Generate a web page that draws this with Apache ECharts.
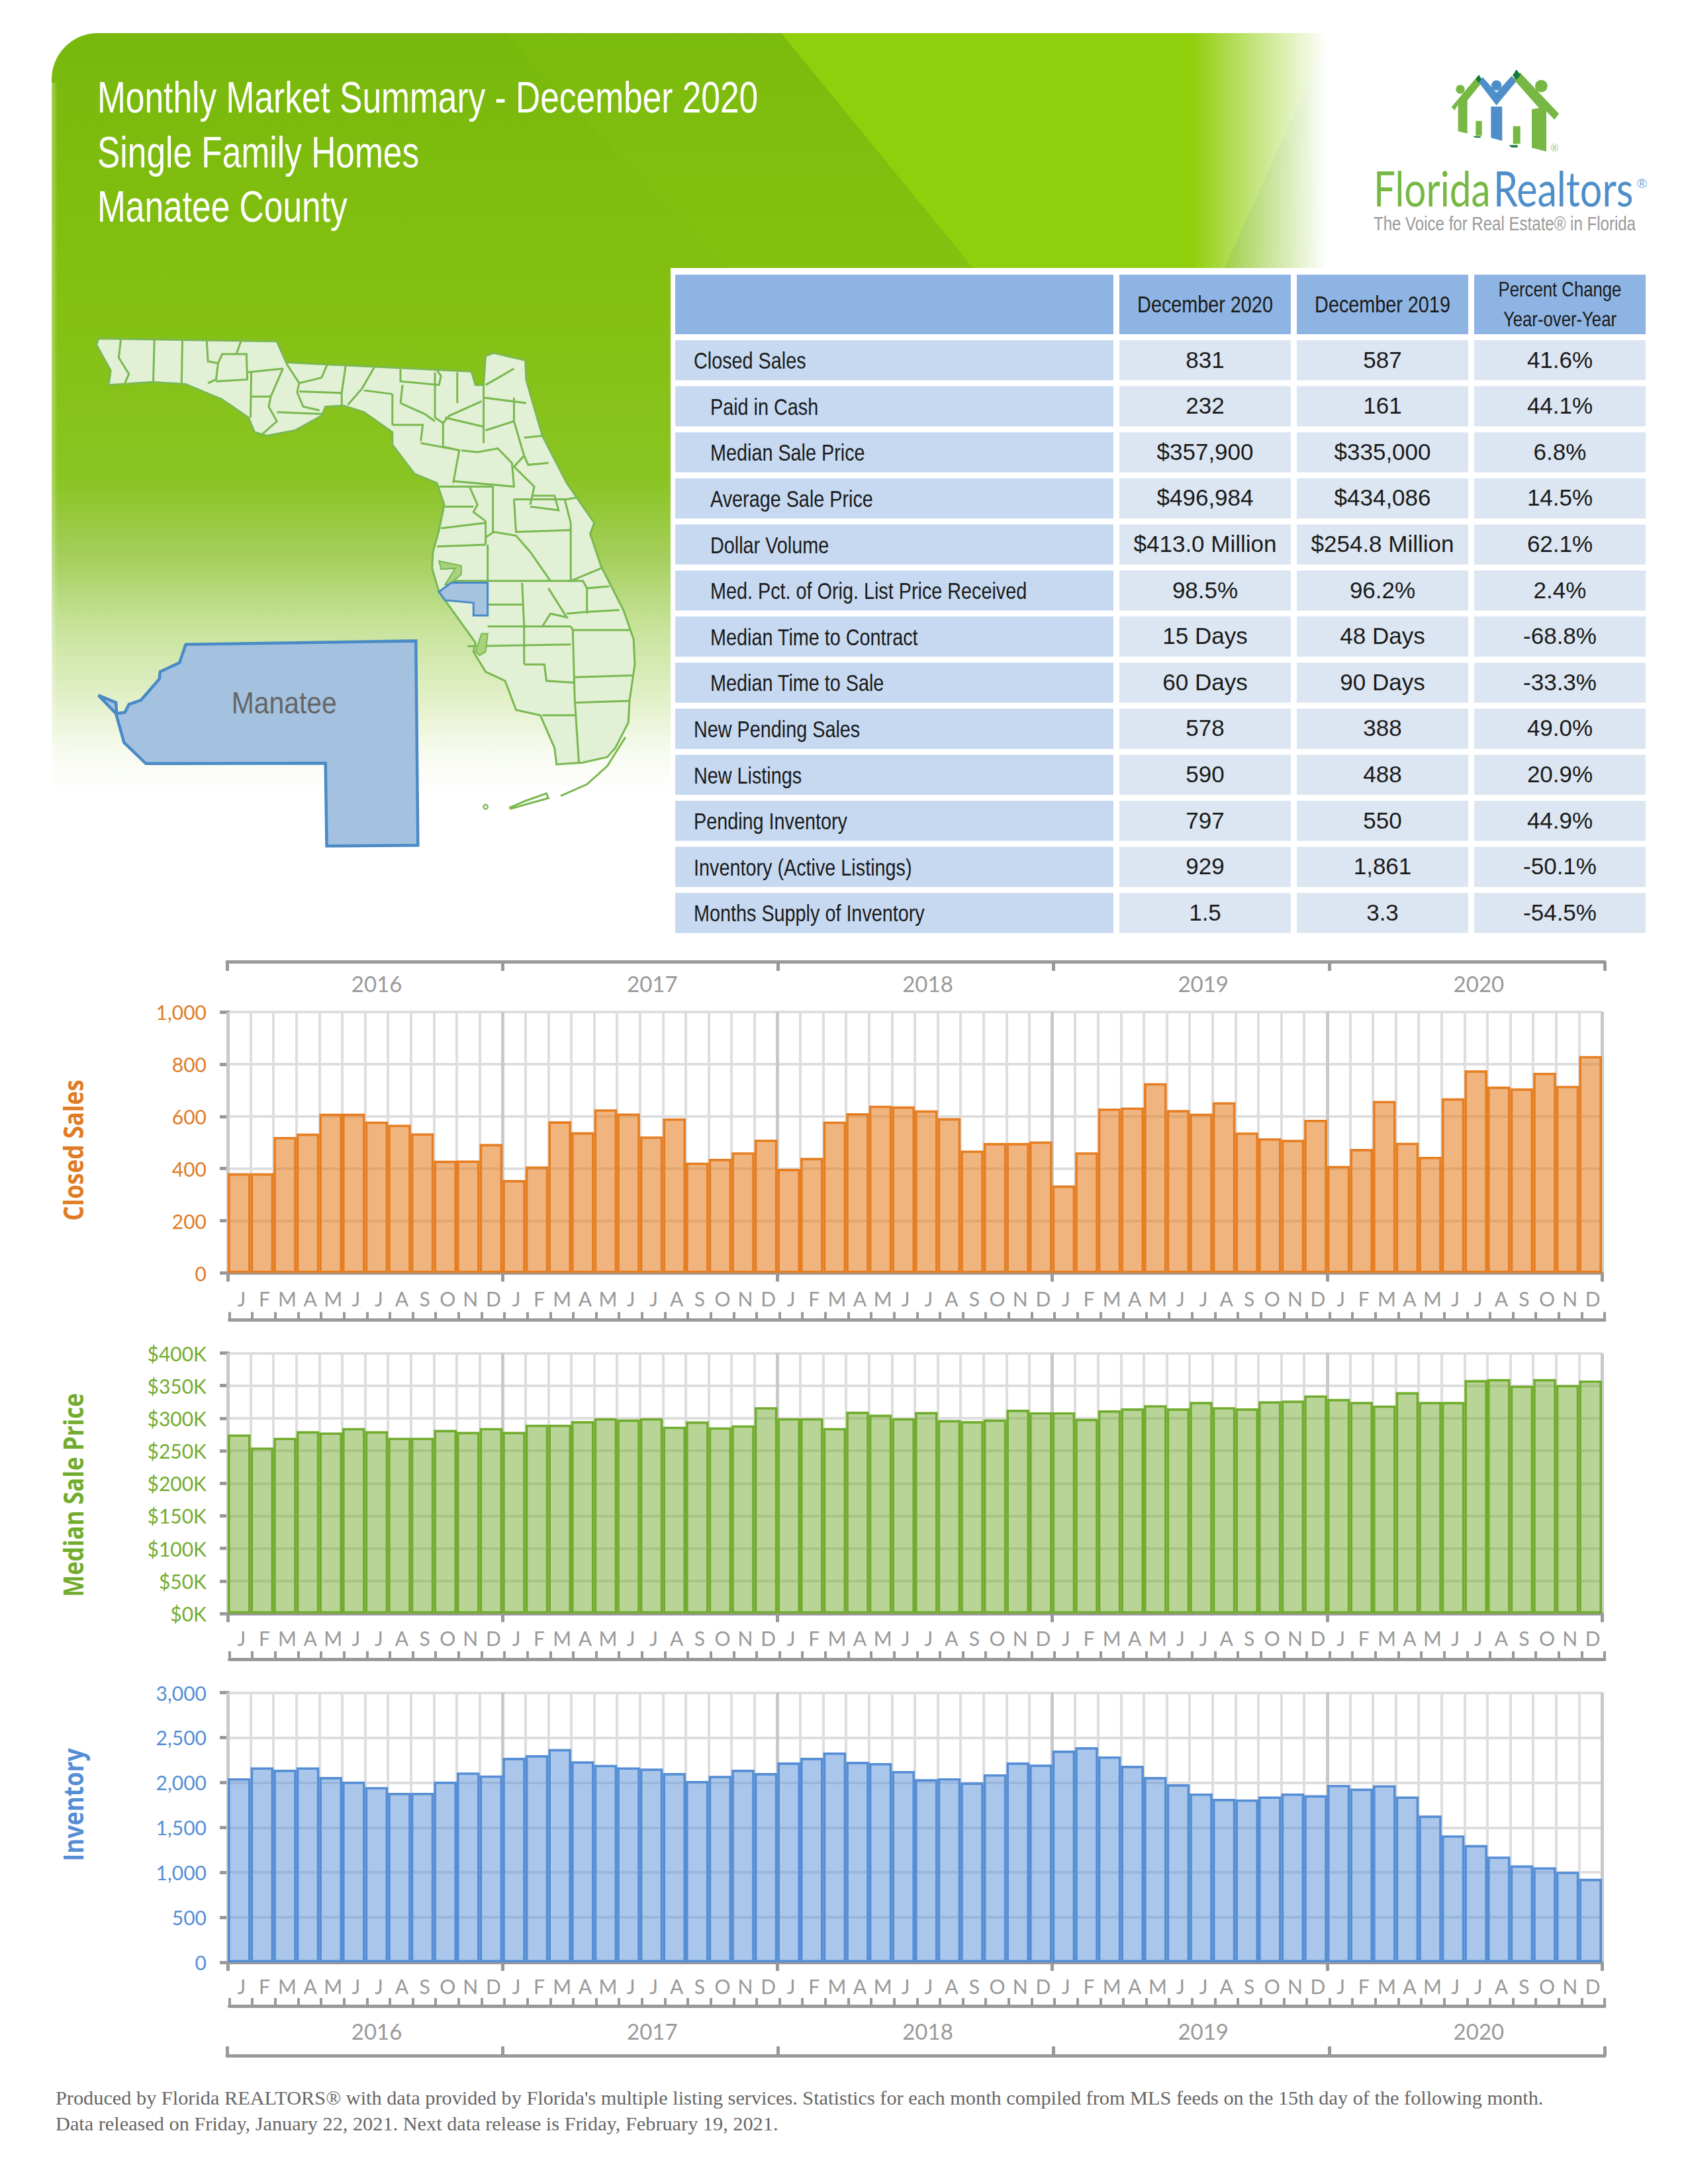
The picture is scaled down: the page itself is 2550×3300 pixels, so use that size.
<!DOCTYPE html>
<html><head><meta charset="utf-8"><title>Monthly Market Summary</title>
<style>html,body{margin:0;padding:0;background:#fff}#c{width:2550px;height:3300px}</style>
<script src="https://cdn.jsdelivr.net/npm/echarts@6/dist/echarts.min.js"></script></head>
<body><div id="c"></div>
<script>
const monthLetters = ['J','F','M','A','M','J','J','A','S','O','N','D'];
const years = ['2016','2017','2018','2019','2020'];
const closedSales = [382,382,521,534,610,610,580,568,535,430,431,494,
 356,408,581,539,627,611,523,592,423,437,462,511,
 399,441,580,612,641,638,623,593,469,498,498,504,
 335,462,630,634,727,624,610,654,538,516,510,587,
 410,475,659,499,445,669,776,714,707,767,717,831];
const medianPrice = [275000,255000,270000,280000,278000,285000,280000,270000,270000,282000,279000,285000,
 279000,290000,290000,295500,300000,298000,300000,287000,295000,286000,289000,317000,
 300000,300000,285000,310000,305500,300000,309500,297000,295500,298000,313000,309000,
 309000,299000,312000,315000,320000,315000,325000,317000,315000,326000,327000,335000,
 329500,325000,319500,340000,325000,325000,358500,360000,350000,360000,351000,357900];
const inventory = [2047,2169,2142,2169,2061,2010,1949,1885,1885,2010,2111,2078,
 2274,2304,2372,2236,2196,2169,2155,2105,2017,2074,2142,2105,
 2223,2274,2334,2230,2216,2128,2037,2047,2000,2091,2223,2199,
 2355,2392,2290,2186,2061,1980,1878,1818,1811,1845,1878,1858,
 1973,1932,1970,1845,1632,1412,1304,1176,1078,1057,1007,929];
const tableHead = ['December 2020','December 2019'];
const tableHeadPct = ['Percent Change','Year-over-Year'];
const rowLabels = ['Closed Sales','Paid in Cash','Median Sale Price','Average Sale Price','Dollar Volume','Med. Pct. of Orig. List Price Received','Median Time to Contract','Median Time to Sale','New Pending Sales','New Listings','Pending Inventory','Inventory (Active Listings)','Months Supply of Inventory'];
const rowIndented = [0,1,1,1,1,1,1,1,0,0,0,0,0];
const col2020 = ['831','232','$357,900','$496,984','$413.0 Million','98.5%','15 Days','60 Days','578','590','797','929','1.5'];
const col2019 = ['587','161','$335,000','$434,086','$254.8 Million','96.2%','48 Days','90 Days','388','488','550','1,861','3.3'];
const colPct = ['41.6%','44.1%','6.8%','14.5%','62.1%','2.4%','-68.8%','-33.3%','49.0%','20.9%','44.9%','-50.1%','-54.5%'];
const titleLines = ['Monthly Market Summary - December 2020','Single Family Homes','Manatee County'];
const footerLines = ["Produced by Florida REALTORS® with data provided by Florida's multiple listing services. Statistics for each month compiled from MLS feeds on the 15th day of the following month.",
 'Data released on Friday, January 22, 2021. Next data release is Friday, February 19, 2021.'];

const months = [];
years.forEach(y => monthLetters.forEach((m, i) => months.push(m)));
const SANS = "'Liberation Sans'";
const AXG = '#999999', GRID = '#dedede', GRIDY = '#c9c9c9';
const PL = 344, PW = 2076;

const grids = [], xAxes = [], yAxes = [], series = [];
function addPanel(o) {
  const g = grids.length;
  grids.push({left: PL, width: PW, top: o.top, height: o.bottom - o.top, outerBoundsMode: 'none'});
  const mainX = xAxes.length;
  xAxes.push({gridIndex: g, type: 'category', data: months, position: 'bottom', boundaryGap: true,
    axisLine: {show: true, onZero: false, lineStyle: {color: AXG, width: 5}},
    axisTick: {show: true, length: 13, interval: (i) => i % 12 === 0, lineStyle: {color: AXG, width: 5}},
    axisLabel: {show: true, interval: 0, color: AXG, fontFamily: 'Lato', fontSize: 30, margin: o.labelMargin, padding: [0, 0, 0, 7]},
    splitLine: {show: true, interval: 0, lineStyle: {color: GRID, width: 4}}, z: 1});
  xAxes.push({gridIndex: g, type: 'category', data: years, position: 'top', boundaryGap: true,
    axisLine: {show: false}, axisTick: {show: false}, axisLabel: {show: false},
    splitLine: {show: true, interval: 0, lineStyle: {color: GRIDY, width: 5}}, z: 1});
  const yi = yAxes.length;
  yAxes.push({gridIndex: g, type: 'value', min: 0, max: o.max, interval: o.interval,
    axisLine: {show: true, lineStyle: {color: AXG, width: 5}},
    axisTick: {show: true, length: 12, lineStyle: {color: AXG, width: 5}},
    axisLabel: {color: o.color, fontFamily: 'Lato', fontSize: 30, margin: 32, formatter: o.fmt},
    splitLine: {show: true, lineStyle: {color: GRID, width: 4}}});
  series.push({type: 'bar', name: o.title, xAxisIndex: mainX, yAxisIndex: yi, data: o.data,
    barWidth: '100%', barCategoryGap: 0, silent: true,
    itemStyle: {color: o.fill, borderColor: o.color2, borderWidth: 3.6}, z: 3});

  // month bracket
  const gm = grids.length;
  grids.push({left: 346.5, width: 2077.5, top: o.top, height: o.bottom - o.top, outerBoundsMode: 'none'});
  xAxes.push({gridIndex: gm, type: 'category', data: months, position: 'bottom', offset: o.monthOffset, boundaryGap: true,
    axisLine: {show: true, onZero: false, lineStyle: {color: AXG, width: 5}},
    axisTick: {show: true, inside: true, interval: 0, length: 12, lineStyle: {color: AXG, width: 4}},
    axisLabel: {show: false}, splitLine: {show: false}});
  yAxes.push({gridIndex: gm, type: 'value', show: false, min: 0, max: 1, splitLine: {show: false}});

  // year bracket
  if (o.yearPos) {
    const gy = grids.length;
    grids.push({left: 343, width: 2081, top: o.top, height: o.bottom - o.top, outerBoundsMode: 'none'});
    xAxes.push({gridIndex: gy, type: 'category', data: years, position: o.yearPos, offset: o.yearOffset, boundaryGap: true,
      axisLine: {show: true, onZero: false, lineStyle: {color: AXG, width: 5}},
      axisTick: {show: true, inside: true, interval: 0, length: 14, lineStyle: {color: AXG, width: 5}},
      axisLabel: {show: true, inside: true, interval: 0, color: AXG, fontFamily: 'Lato', fontSize: 33, margin: o.yearMargin, padding: [0, 0, 0, 36]},
      splitLine: {show: false}});
    yAxes.push({gridIndex: gy, type: 'value', show: false, min: 0, max: 1, splitLine: {show: false}});
  }
}
const fmtInt = v => v.toLocaleString('en-US');
addPanel({title: 'Closed Sales', data: closedSales, top: 1529, bottom: 1923.5, max: 1000, interval: 200, fmt: fmtInt,
  color: '#E07B25', color2: '#E67E22', fill: 'rgba(230,125,35,0.58)', labelMargin: 23, monthOffset: 71,
  yearPos: 'top', yearOffset: 76, yearMargin: 16});
addPanel({title: 'Median Sale Price', data: medianPrice, top: 2044.5, bottom: 2438, max: 400000, interval: 50000, fmt: v => '$' + (v / 1000) + 'K',
  color: '#72AC2F', color2: '#72AC2F', fill: 'rgba(114,172,47,0.5)', labelMargin: 22, monthOffset: 69});
addPanel({title: 'Inventory', data: inventory, top: 2557.5, bottom: 2965, max: 3000, interval: 500, fmt: fmtInt,
  color: '#558ED5', color2: '#558ED5', fill: 'rgba(85,142,213,0.5)', labelMargin: 21, monthOffset: 66,
  yearPos: 'bottom', yearOffset: 141, yearMargin: 21});

// ---------- page furniture (background, map, logo, table, text) ----------
const LG = echarts.graphic.LinearGradient;
const gfx = [];
function txt(x, y, text, fill, font, align, sx, extra) {
  gfx.push(Object.assign({type: 'text', z: 5, silent: true, x, y, scaleX: sx || 1,
    style: Object.assign({text, fill, font, textAlign: align || 'left', textVerticalAlign: 'middle'}, (extra && extra.style) || {})},
    extra && extra.rotation ? {rotation: extra.rotation} : {}));
}
gfx.push({type: 'rect', z: 0, silent: true, shape: {x: 78, y: 50, width: 1932, height: 1165, r: [70, 0, 0, 0]},
  style: {fill: new LG(0, 0, 0, 1, [
    {offset: 0, color: '#78b80c'}, {offset: .345, color: '#84c011'}, {offset: .58, color: '#8ac422'},
    {offset: .676, color: '#a3ce5a'}, {offset: .77, color: '#c7e39a'}, {offset: .865, color: '#e3f0c9'},
    {offset: .935, color: '#f7fbf0'}, {offset: .983, color: '#ffffff'}, {offset: 1, color: '#ffffff'}])}});
gfx.push({type: 'polygon', z: 0, silent: true, shape: {points: [[760, 50], [1100, 405], [1470, 405], [1180, 50]]}, style: {fill: 'rgba(150,215,15,0.12)'}});
gfx.push({type: 'polygon', z: 0, silent: true, shape: {points: [[1180, 50], [1470, 405], [1850, 405], [2010, 50]]}, style: {fill: '#90cf0c'}});
gfx.push({type: 'rect', z: 0, silent: true, shape: {x: 1800, y: 50, width: 211, height: 1165},
  style: {fill: new LG(0, 0, 1, 0, [{offset: 0, color: 'rgba(255,255,255,0)'}, {offset: .97, color: 'rgba(255,255,255,1)'}, {offset: 1, color: 'rgba(255,255,255,1)'}])}});
gfx.push({type: 'rect', z: 0, silent: true, shape: {x: 78, y: 125, width: 9, height: 1090},
  style: {fill: new LG(0, 0, 1, 0, [{offset: 0, color: 'rgba(255,255,255,.35)'}, {offset: 1, color: 'rgba(255,255,255,0)'}])}});
gfx.push({type: 'rect', z: 0, silent: true, shape: {x: 1013, y: 405, width: 1500, height: 1015}, style: {fill: '#fff'}});

// title
titleLines.forEach((t, i) => txt(147, [147, 230, 312][i], t, '#fff', "66px " + SANS, 'left', 0.78,
  {style: {shadowColor: 'rgba(0,0,0,.55)', shadowBlur: 5, shadowOffsetX: 3, shadowOffsetY: 3}}));

// map helpers: sketch coordinates on the reference's map panel
const M = p => [60 + p[0] / 1.633, 450 + p[1] / 1.823];
const flOutline = [[145,112],[585,120],[608,178],[1065,203],[1075,240],[1095,240],[1100,160],[1120,152],[1198,172],[1200,225],[1210,265],[1240,380],[1300,510],[1368,620],[1358,650],[1385,740],[1440,860],[1465,940],[1468,1010],[1455,1110],[1452,1170],[1420,1240],[1400,1265],[1340,1280],[1275,1285],[1270,1240],[1235,1150],[1175,1135],[1148,1055],[1100,1030],[1070,975],[1075,950],[985,810],[968,745],[970,700],[985,640],[998,570],[980,510],[925,485],[870,405],[870,370],[800,315],[750,297],[705,300],[695,325],[630,365],[560,380],[530,370],[515,330],[450,280],[360,238],[280,232],[170,240],[175,200],[140,130]];
const flLines = [[[200,115],[195,165],[220,210],[210,235]],[[283,112],[280,230]],[[352,115],[350,235]],[[412,118],[415,175],[440,180],[435,225],[415,235]],[[497,118],[485,155],[450,155],[440,180]],[[485,155],[510,155],[512,225],[435,230]],[[512,205],[600,195]],[[522,205],[520,330]],[[520,272],[570,272]],[[600,195],[570,272],[565,300],[585,340],[550,375]],[[585,315],[695,320]],[[608,180],[640,235],[635,260],[650,300],[690,310]],[[640,258],[745,262]],[[640,235],[695,220],[710,182]],[[755,185],[745,262],[745,295]],[[825,192],[795,250],[760,295]],[[800,255],[870,265]],[[870,265],[870,350]],[[890,197],[890,230],[985,240],[990,215],[980,200]],[[890,290],[950,320],[975,340]],[[895,240],[890,290]],[[870,350],[945,350],[940,395]],[[975,205],[975,330],[995,345],[1010,325],[1090,285]],[[1030,205],[1030,290]],[[1095,240],[1095,400]],[[1100,240],[1170,195]],[[1095,275],[1200,290]],[[1170,275],[1170,340],[1100,365]],[[1170,340],[1195,435],[1205,460],[1255,455]],[[1195,385],[1240,380]],[[995,345],[995,410],[1035,420]],[[1000,330],[1095,355]],[[940,400],[1035,420],[1020,510]],[[1040,420],[1080,425],[1130,415],[1165,455],[1170,520],[1020,505]],[[1195,435],[1170,465],[1220,520],[1210,570]],[[1210,575],[1280,585],[1270,545],[1215,545]],[[985,520],[1060,520],[1080,570],[1070,590],[1100,615]],[[1000,575],[1070,575]],[[1118,520],[1118,645]],[[1060,520],[1118,520]],[[990,635],[1100,620]],[[1100,615],[1100,680]],[[980,685],[1100,680]],[[1170,555],[1300,555],[1325,550]],[[1170,555],[1175,645],[1310,640]],[[1295,555],[1310,620],[1310,780],[1385,745]],[[1100,660],[1120,645],[1175,655],[1210,700],[1260,780]],[[1105,680],[1105,780]],[[1020,780],[1340,780],[1350,800],[1405,795]],[[1350,800],[1350,870]],[[1190,785],[1195,905]],[[1105,845],[1190,845]],[[1105,905],[1310,905]],[[1255,800],[1300,880],[1260,870],[1240,905]],[[1300,870],[1350,865],[1430,860]],[[1315,915],[1455,915]],[[1315,915],[1320,1110],[1330,1280]],[[1310,905],[1315,915]],[[1195,905],[1195,1010]],[[1055,960],[1310,955]],[[1195,1010],[1245,1010],[1250,1055],[1320,1060]],[[1320,1045],[1465,1040]],[[1320,1115],[1455,1110]],[[1240,1150],[1325,1150]],[[1285,1372],[1350,1340],[1400,1290],[1445,1210]],[[1158,1405],[1200,1385],[1250,1365],[1255,1378],[1200,1395],[1160,1408]]];
const tampaBay = [[985,725],[1040,738],[1040,762],[1010,790],[1000,790],[1025,745],[990,748]];
const charlotte = [[1090,925],[1105,925],[1100,975],[1085,985],[1075,975]];
const manateeSmall = [[985,810],[1015,785],[1105,785],[1105,875],[1070,875],[1070,840],[1000,833]];
const manateeLarge = [[360,955],[928,945],[933,1508],[708,1510],[705,1282],[262,1283],[208,1225],[188,1145],[145,1095],[188,1115],[190,1145],[210,1142],[220,1120],[250,1108],[295,1050],[297,1030],[345,1005]];
const GL = '#7ab850';
gfx.push({type: 'polygon', z: 2, silent: true, shape: {points: flOutline.map(M)}, style: {fill: '#e2f0d6', stroke: GL, lineWidth: 3}});
flLines.forEach(l => gfx.push({type: 'polyline', z: 2, silent: true, shape: {points: l.map(M)}, style: {fill: null, stroke: GL, lineWidth: 3}}));
gfx.push({type: 'circle', z: 2, silent: true, shape: {cx: M([1100, 1402])[0], cy: M([1100, 1402])[1], r: 3.5}, style: {fill: '#e2f0d6', stroke: GL, lineWidth: 2}});
gfx.push({type: 'polygon', z: 2, silent: true, shape: {points: tampaBay.map(M)}, style: {fill: '#a8d27e', stroke: GL, lineWidth: 2}});
gfx.push({type: 'polygon', z: 2, silent: true, shape: {points: charlotte.map(M)}, style: {fill: '#a8d27e', stroke: GL, lineWidth: 2}});
gfx.push({type: 'polygon', z: 3, silent: true, shape: {points: manateeSmall.map(M)}, style: {fill: '#a6c3e0', stroke: '#4a8ac6', lineWidth: 3}});
gfx.push({type: 'polygon', z: 3, silent: true, shape: {points: manateeLarge.map(M)}, style: {fill: '#a4c2df', stroke: '#4a8ac6', lineWidth: 4.5}});
txt(M([603, 0])[0], M([0, 1115])[1], 'Manatee', '#666', "47px " + SANS, 'center', 0.87);

// logo
const L = p => [2020 + p[0] / 3, 60 + p[1] / 3];
const LGN = '#76b843', LBL = '#4f8fc9', LDK = '#17793a';
function logoPoly(pts, fill) { gfx.push({type: 'polygon', z: 4, silent: true, shape: {points: pts.map(L)}, style: {fill}}); }
logoPoly([[518,305],[632,170],[655,195],[590,275],[590,425],[548,415],[548,295],[532,320]], LGN);
logoPoly([[628,368],[656,368],[656,435],[628,435]], LGN);
logoPoly([[615,437],[650,437],[650,444],[625,444]], LDK);
logoPoly([[638,188],[660,170],[722,240],[790,165],[815,185],[722,298]], LBL);
logoPoly([[697,303],[748,303],[748,458],[697,445]], LBL);
logoPoly([[797,392],[830,392],[830,472],[797,472]], LGN);
logoPoly([[778,478],[818,478],[818,488],[790,488]], LDK);
logoPoly([[800,180],[830,150],[1005,335],[985,362],[948,325],[948,507],[882,490],[882,315],[915,310]], LGN);
logoPoly([[628,178],[642,158],[655,180],[640,195]], LDK);
logoPoly([[795,162],[812,135],[832,160],[812,182]], LDK);
[[558,225,20,LGN],[722,207,23,LBL],[925,210,28,LGN]].forEach(c => {
  const q = L([c[0], c[1]]);
  gfx.push({type: 'circle', z: 4, silent: true, shape: {cx: q[0], cy: q[1], r: c[2] / 3}, style: {fill: c[3]}});
});
txt(L([985, 0])[0], L([0, 490])[1], '®', '#9cc98a', "15px Lato", 'center');
txt(2075, 283, 'Florida', '#76b843', "74px Lato", 'left', 0.79);
txt(2256, 283, 'Realtors', '#4f8fc9', "74px Lato", 'left', 0.80);
txt(2472, 276, '®', '#7fb0d8', "20px Lato");
txt(2075, 338, 'The Voice for Real Estate® in Florida', '#999', "29px " + SANS, 'left', 0.83);

// table
const colX = [1020, 1691, 1959, 2227], colW = [662, 259, 259, 259];
const headTop = 415, headH = 90, rowTop = 514, rowPitch = 69.6, rowH = 60.6;
colX.forEach((x, c) => gfx.push({type: 'rect', z: 1, silent: true, shape: {x, y: headTop, width: colW[c], height: headH}, style: {fill: '#8eb4e3'}}));
const cx = c => colX[c] + colW[c] / 2;
const tCol = '#1a1a1a', labelFont = "36px " + SANS, valueFont = "35px " + SANS;
tableHead.forEach((t, i) => txt(cx(i + 1), 459, t, tCol, labelFont, 'center', 0.80));
tableHeadPct.forEach((t, i) => txt(cx(3), [437, 482][i], t, tCol, "31px " + SANS, 'center', 0.83));
rowLabels.forEach((lab, r) => {
  const y = rowTop + r * rowPitch;
  colX.forEach((x, c) => gfx.push({type: 'rect', z: 1, silent: true, shape: {x, y, width: colW[c], height: rowH}, style: {fill: c === 0 ? '#c6d9f1' : '#dce6f2'}}));
  txt(rowIndented[r] ? 1073 : 1048, y + 30.5, lab, tCol, labelFont, 'left', 0.80);
  [col2020, col2019, colPct].forEach((col, c) => txt(cx(c + 1), y + 29, col[r], tCol, valueFont, 'center'));
});

// vertical axis titles
[['Closed Sales', 110, 1738, '#E07B25'], ['Median Sale Price', 110, 2259, '#72AC2F'], ['Inventory', 110, 2727, '#558ED5']].forEach(t =>
  txt(t[1], t[2], t[0], t[3], "bold 41px 'Open Sans'", 'center', 0.854, {rotation: Math.PI / 2}));

// footer
footerLines.forEach((t, i) => txt(84, [3170, 3209][i], t, '#666', "30.3px 'Liberation Serif'"));

const chart = echarts.init(document.getElementById('c'), null, {renderer: 'svg', width: 2550, height: 3300});
chart.setOption({animation: false, backgroundColor: '#fff', grid: grids, xAxis: xAxes, yAxis: yAxes, series, graphic: {elements: gfx}});
</script></body></html>
